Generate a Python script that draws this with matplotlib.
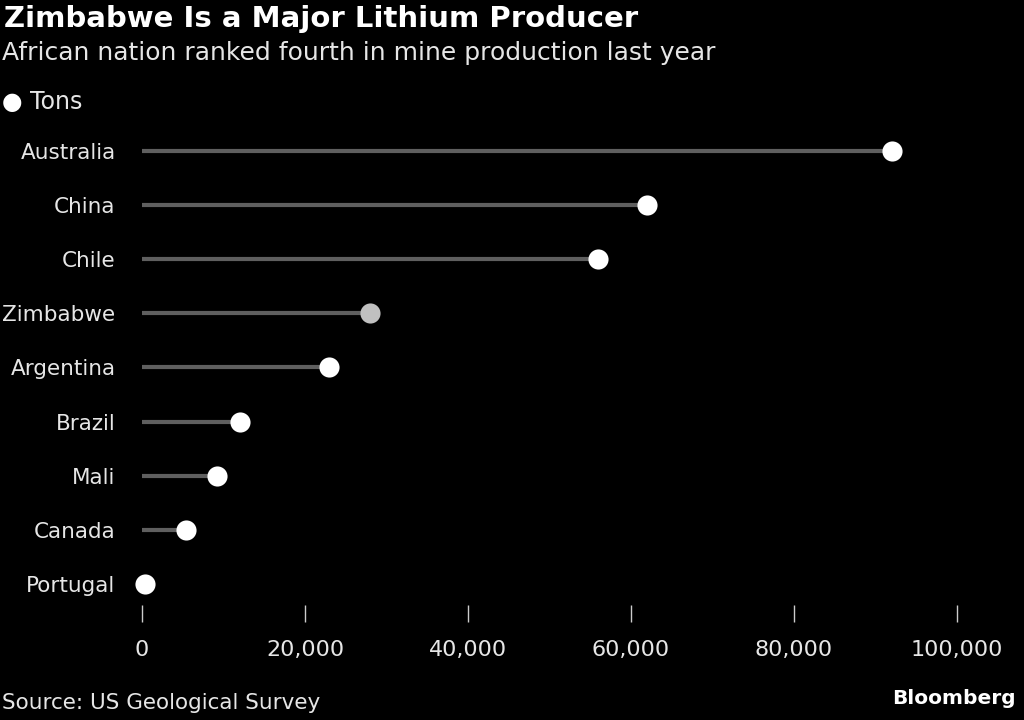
import matplotlib.pyplot as plt
from matplotlib.ticker import FuncFormatter

countries = ['Australia', 'China', 'Chile', 'Zimbabwe', 'Argentina',
             'Brazil', 'Mali', 'Canada', 'Portugal']
tons = [92000, 62000, 56000, 28000, 23000, 12000, 9200, 5400, 380]
highlight = 'Zimbabwe'
xticks = [0, 20000, 40000, 60000, 80000, 100000]

plt.rcParams['font.family'] = ['DejaVu Sans']

W, H = 1024, 720
fig = plt.figure(figsize=(W / 100, H / 100), dpi=100, facecolor='black')

# axes placed in pixel coordinates
left, right, top, bottom = 142, 957, 124, 605
ax = fig.add_axes([left / W, 1 - bottom / H, (right - left) / W, (bottom - top) / H])
ax.set_facecolor('black')

ypos = list(range(len(countries)))
for y, c, v in zip(ypos, countries, tons):
    col = '#c0c0c0' if c == highlight else 'white'
    ax.plot([0, v], [y, y], color='#5f5f5f', lw=3, solid_capstyle='butt',
            zorder=1, clip_on=False)
    ax.scatter([v], [y], s=210, color=col, zorder=3, clip_on=False,
               linewidths=0)

ax.set_xlim(0, 100000)
ax.set_ylim(8.39, -0.5)
ax.set_yticks(ypos)
ax.set_yticklabels(countries, fontsize=15.5, color='#e6e6e6')
ax.tick_params(axis='y', length=0, pad=19)
ax.set_xticks(xticks)
ax.xaxis.set_major_formatter(FuncFormatter(lambda v, p: f'{int(v):,}'))
ax.tick_params(axis='x', length=12, width=1, color='#cccccc', direction='out',
               labelsize=16, labelcolor='#e6e6e6', pad=13)
for s in ax.spines.values():
    s.set_visible(False)

fig.text(4 / W, 1 - 19 / H, 'Zimbabwe Is a Major Lithium Producer',
         fontsize=21, fontweight='bold', color='white', va='center')
fig.text(2 / W, 1 - 53 / H, 'African nation ranked fourth in mine production last year',
         fontsize=18, color='#e6e6e6', va='center')

fig.text(12 / W, 1 - 102 / H, '\u25CF', fontsize=17, color='white', va='center',
         ha='center')
fig.text(30 / W, 1 - 102 / H, 'Tons', fontsize=17, color='#e6e6e6', va='center')

fig.text(2 / W, 1 - 703 / H, 'Source: US Geological Survey',
         fontsize=15.5, color='#e6e6e6', va='center')
fig.text(1016 / W, 1 - 698 / H, 'Bloomberg', fontsize=14.5, fontweight='bold',
         color='white', va='center', ha='right')

fig.savefig('out.png', dpi=100, facecolor='black')
